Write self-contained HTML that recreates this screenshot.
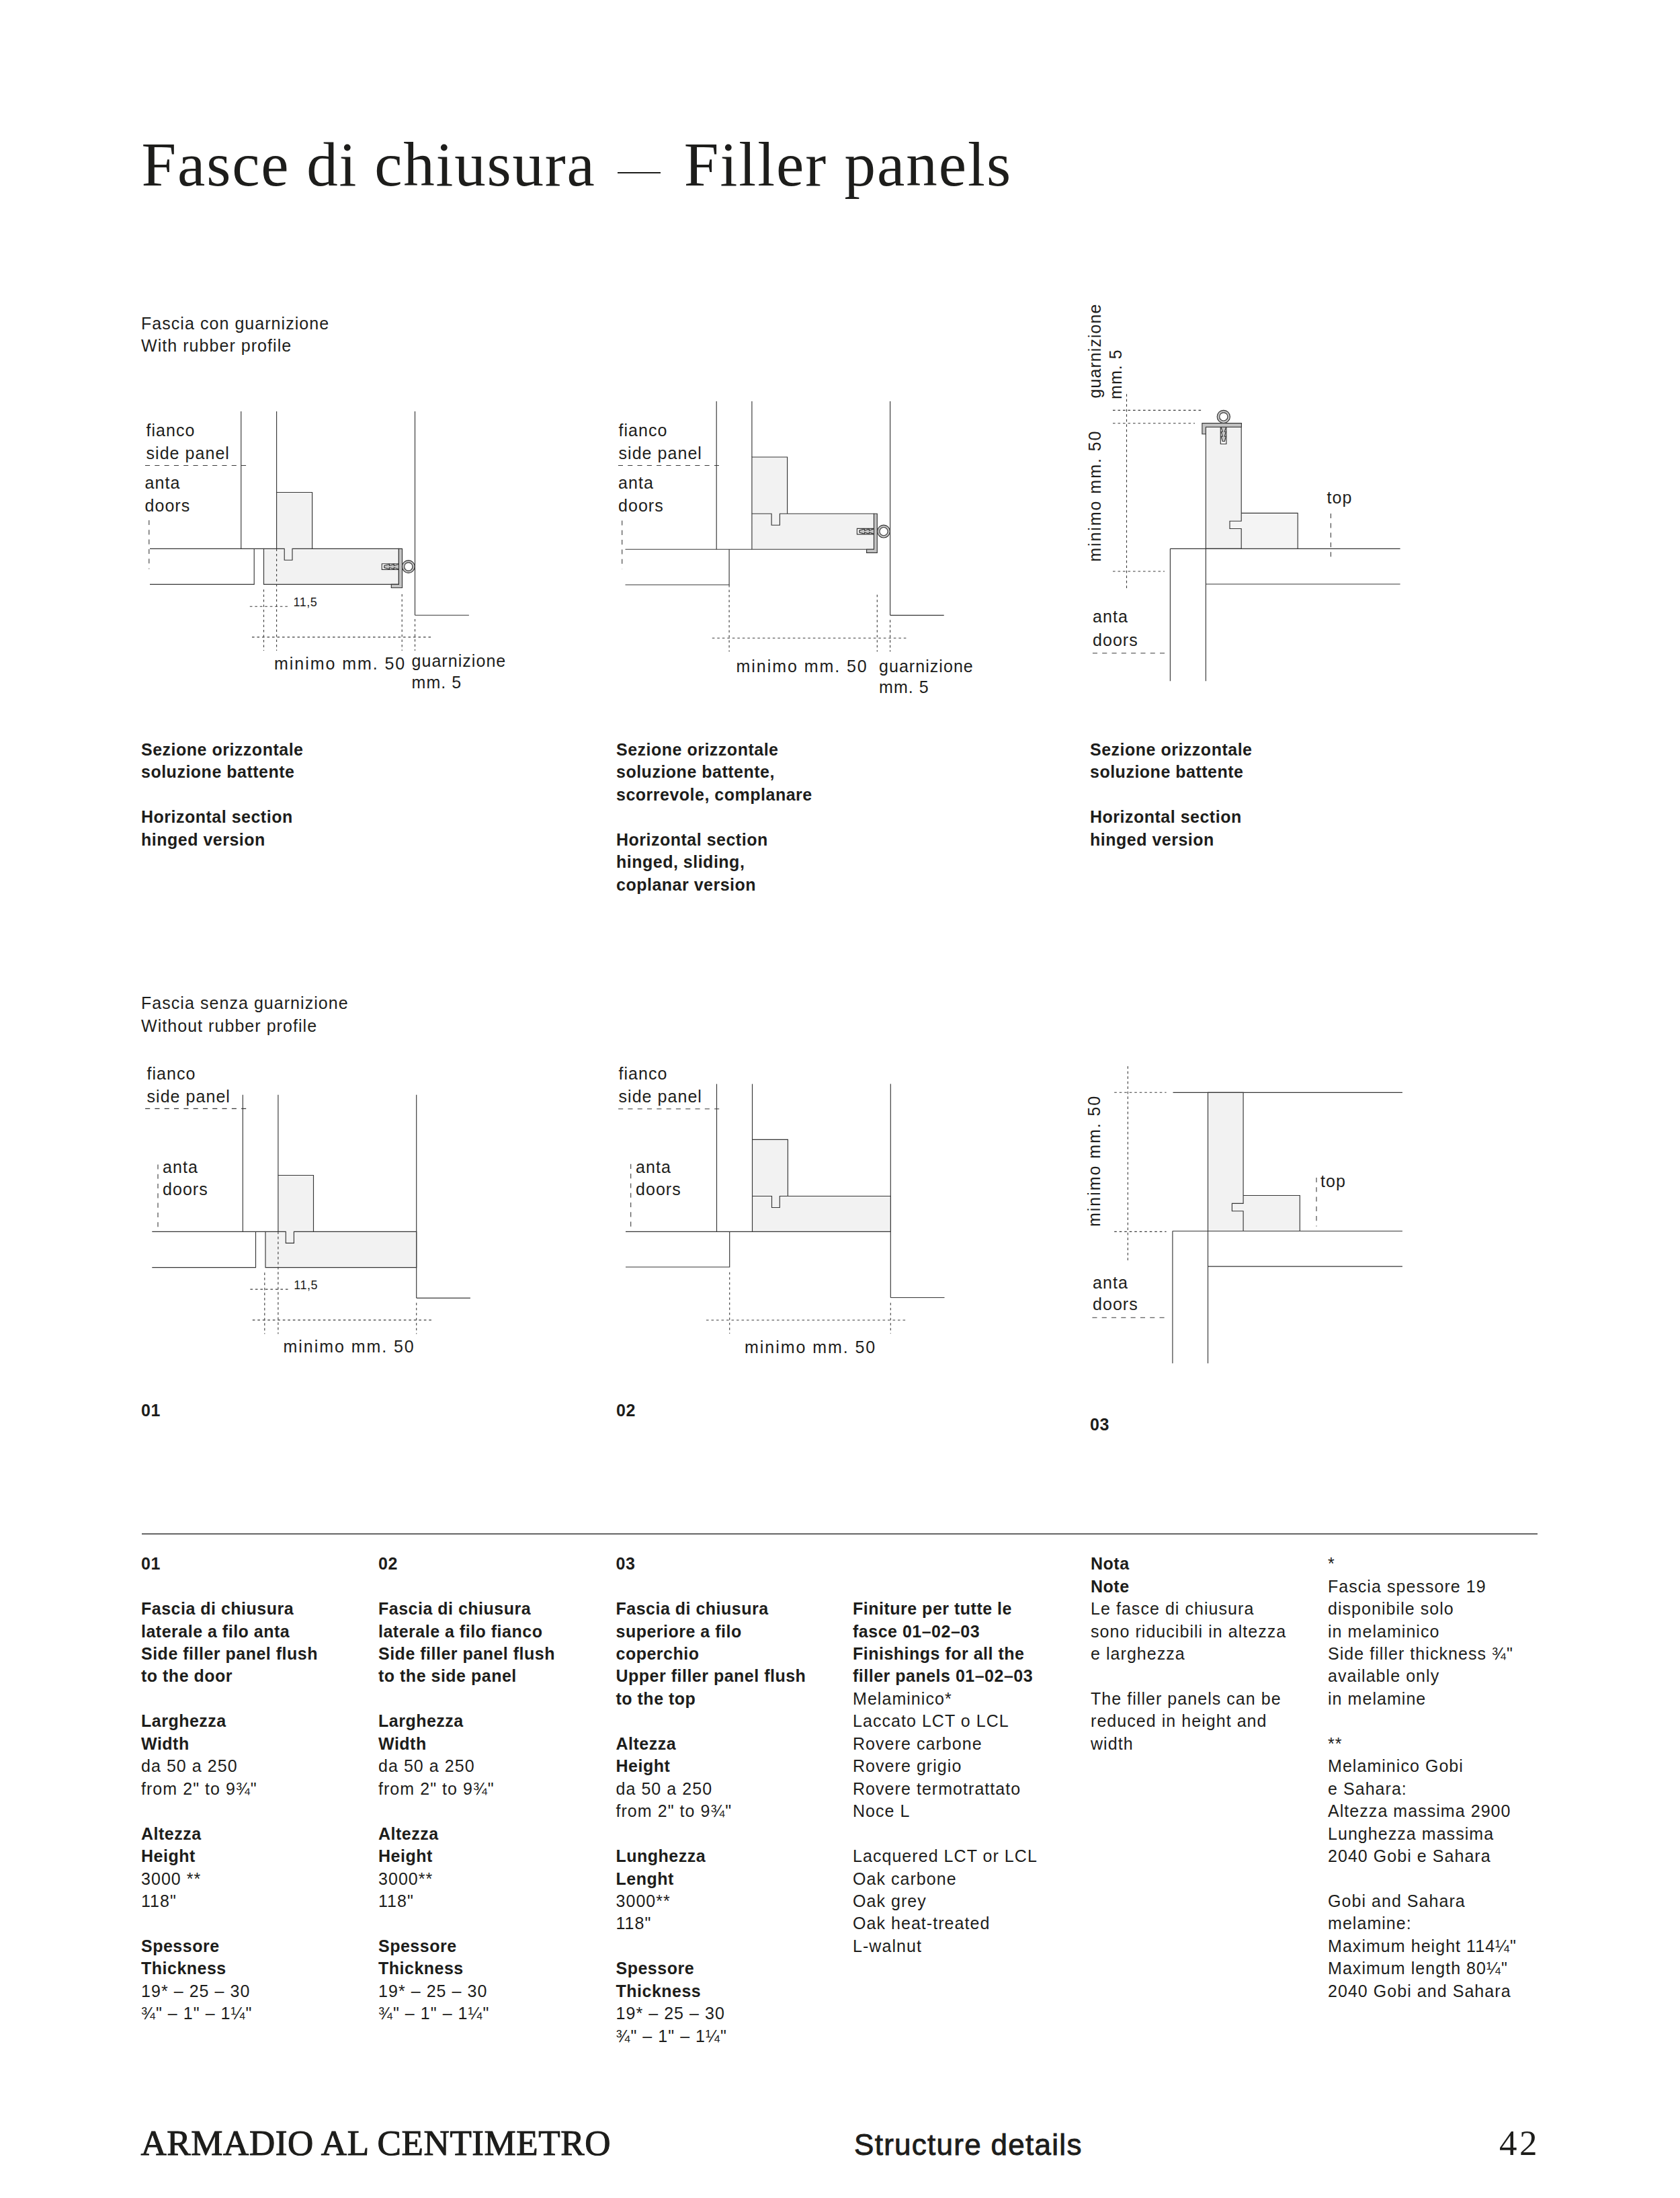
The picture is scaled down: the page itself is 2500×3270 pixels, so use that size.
<!DOCTYPE html>
<html lang="it"><head><meta charset="utf-8"><title>Fasce di chiusura — Filler panels</title>
<style>
*{margin:0;padding:0;box-sizing:border-box}
html,body{width:2500px;height:3270px;background:#fff;overflow:hidden}
body{position:relative;color:#1d1d1b;font-family:"Liberation Sans",Arial,sans-serif}
#dg{position:absolute;left:0;top:0}
.s{stroke:#363636;stroke-width:1.15}
.dl{stroke:#3a3a3a;stroke-width:1.1;stroke-dasharray:7.1 7.2}
.dd{stroke:#3a3a3a;stroke-width:1.1;stroke-dasharray:3.6 3.9}
text.t{font-family:"Liberation Sans",Arial,sans-serif;font-size:25px;fill:#1d1d1b;letter-spacing:1.05px}
text.ts{font-family:"Liberation Sans",Arial,sans-serif;font-size:18px;fill:#1d1d1b;letter-spacing:0.5px}
.ser{position:absolute;font-family:"Liberation Serif","Times New Roman",serif;white-space:nowrap;line-height:1}
.tx{position:absolute;font-size:25px;line-height:33.45px;letter-spacing:1.05px;white-space:nowrap}
.tx b{font-weight:bold;letter-spacing:0.5px}
.hr{position:absolute;left:211.2px;top:2281.4px;width:2077px;height:1.8px;background:#666}
</style></head>
<body>
<svg id="dg" width="2500" height="3270" viewBox="0 0 2500 3270">
<line class="s" x1="358.75" y1="612" x2="358.75" y2="816.4"/>
<line class="s" x1="411.6" y1="612" x2="411.6" y2="732.5"/>
<line class="s" x1="617.5" y1="612" x2="617.5" y2="915.2"/>
<line class="s" x1="617.5" y1="915.2" x2="697.9" y2="915.2"/>
<line class="dl" x1="216" y1="692.5" x2="367" y2="692.5"/>
<line class="dl" x1="221.8" y1="774" x2="221.8" y2="846.4"/>
<line class="s" x1="223" y1="816.4" x2="392.5" y2="816.4"/>
<path class="s" fill="none" d="M223,869.3 L378.2,869.3 L378.2,816.4"/>
<rect x="411.6" y="732.5" width="53.0" height="83.9" fill="#f2f2f2"/>
<path class="s" fill="none" d="M411.6,816.40 L411.6,732.5 L464.60,732.5 L464.60,816.40"/>
<rect x="392.5" y="816.4" width="200.90" height="52.90" fill="#f2f2f2"/>
<path class="s" fill="none" d="M392.5,816.4 L423.2,816.4 L423.2,833.2 L435.0,833.2 L435.0,816.4 L593.4,816.4 L593.4,869.3 L392.5,869.3 Z"/>
<path class="s" fill="#fff" d="M593.4,838.7 L568.3,838.7 L568.3,847.3 L593.4,847.3"/>
<path class="s" fill="#c4c4c4" d="M593.4,816.4 L598.5,816.4 L598.5,874.5 L582.3,874.5 L582.3,869.3 L593.4,869.3 Z"/>
<path class="s" fill="#c4c4c4" d="M571.6,841.5 L579.5,839.4 L579.5,841.5 L586.35,839.4 L586.35,841.5 L593.4,839.2 L593.4,846.8 L586.35,844.5 L586.35,846.6 L579.5,844.5 L579.5,846.6 L571.6,844.5 Z"/>
<circle class="s" cx="607.8" cy="843" r="9.4" fill="#c4c4c4"/>
<circle class="s" cx="607.8" cy="843" r="6.1" fill="#fff"/>
<line class="dd" x1="392.5" y1="877" x2="392.5" y2="968"/>
<line class="dd" x1="411.6" y1="816.4" x2="411.6" y2="968"/>
<line class="dd" x1="598.2" y1="884" x2="598.2" y2="968"/>
<line class="dd" x1="617.5" y1="921" x2="617.5" y2="968"/>
<line class="dd" x1="371.8" y1="902.2" x2="428.2" y2="902.2"/>
<line class="dd" x1="375" y1="947.9" x2="641.4" y2="947.9"/>
<text class="t" x="217.5" y="648.6">fianco</text>
<text class="t" x="217.5" y="683">side panel</text>
<text class="t" x="215.5" y="726.8">anta</text>
<text class="t" x="215.5" y="760.7">doors</text>
<text class="ts" x="436.5" y="902.3">11,5</text>
<text class="t" x="408" y="995.7"><tspan style="letter-spacing:1.95px">minimo mm. 50</tspan></text>
<text class="t" x="612.5" y="991.7">guarnizione</text>
<text class="t" x="612.5" y="1023.8">mm. 5</text>
<line class="s" x1="1066.2" y1="597" x2="1066.2" y2="817.2"/>
<line class="s" x1="1118.9" y1="597" x2="1118.9" y2="680"/>
<line class="s" x1="1324.6" y1="597" x2="1324.6" y2="915.3"/>
<line class="s" x1="1324.6" y1="915.3" x2="1404.7" y2="915.3"/>
<line class="dl" x1="919.9" y1="692.5" x2="1070.4" y2="692.5"/>
<line class="dl" x1="925.7" y1="774.5" x2="925.7" y2="846.2"/>
<line class="s" x1="930.5" y1="817.2" x2="1118.9" y2="817.2"/>
<path class="s" fill="none" d="M930.5,870 L1085.1,870 L1085.1,817.2"/>
<rect x="1118.9" y="680.0" width="52.7" height="84.2" fill="#f2f2f2"/>
<path class="s" fill="none" d="M1118.9,764.20 L1118.9,680.0 L1171.60,680.0 L1171.60,764.20"/>
<rect x="1118.9" y="764.2" width="181.60" height="53.00" fill="#f2f2f2"/>
<path class="s" fill="none" d="M1118.9,764.2 L1148.1,764.2 L1148.1,781.2 L1160.4,781.2 L1160.4,764.2 L1300.5,764.2 L1300.5,817.2 L1118.9,817.2 Z"/>
<path class="s" fill="#fff" d="M1300.5,786.3000000000001 L1275.4,786.3000000000001 L1275.4,794.9 L1300.5,794.9"/>
<path class="s" fill="#c4c4c4" d="M1300.5,764.2 L1305.3,764.2 L1305.3,822.4000000000001 L1289.6,822.4000000000001 L1289.6,817.2 L1300.5,817.2 Z"/>
<path class="s" fill="#c4c4c4" d="M1278.7,789.1 L1286.6,787.0 L1286.6,789.1 L1293.45,787.0 L1293.45,789.1 L1300.5,786.8000000000001 L1300.5,794.4 L1293.45,792.1 L1293.45,794.2 L1286.6,792.1 L1286.6,794.2 L1278.7,792.1 Z"/>
<circle class="s" cx="1315" cy="790.6" r="9.4" fill="#c4c4c4"/>
<circle class="s" cx="1315" cy="790.6" r="6.1" fill="#fff"/>
<line class="dd" x1="1085.1" y1="870" x2="1085.1" y2="969.6"/>
<line class="dd" x1="1305.3" y1="884.7" x2="1305.3" y2="969.6"/>
<line class="dd" x1="1324.6" y1="922.3" x2="1324.6" y2="969.6"/>
<line class="dd" x1="1059.8" y1="949.3" x2="1349" y2="949.3"/>
<text class="t" x="920.5" y="648.5">fianco</text>
<text class="t" x="920.5" y="682.9">side panel</text>
<text class="t" x="920" y="726.9">anta</text>
<text class="t" x="920" y="760.6">doors</text>
<text class="t" x="1095.5" y="999.5"><tspan style="letter-spacing:1.95px">minimo mm. 50</tspan></text>
<text class="t" x="1308" y="999.5">guarnizione</text>
<text class="t" x="1308" y="1030.5">mm. 5</text>
<rect x="1794.4" y="635.2" width="52.8" height="181.1" fill="#f2f2f2"/>
<path fill="#f4f4f4" d="M1847.2,763.3 L1931.2,763.3 L1931.2,816.3 L1847.2,816.3 L1847.2,786.5 L1830,786.5 L1830,775.2 L1847.2,775.2 Z"/>
<path class="s" fill="none" d="M1794.4,635.2 L1847.2,635.2 L1847.2,775.2 L1830,775.2 L1830,786.5 L1847.2,786.5 L1847.2,816.3 L1794.4,816.3 Z"/>
<path class="s" fill="none" d="M1847.2,763.3 L1931.2,763.3 L1931.2,816.3"/>
<path class="s" fill="#fff" d="M1816.3,635.2 L1816.3,660.5 L1824.9,660.5 L1824.9,635.2"/>
<path class="s" fill="#c4c4c4" d="M1817.0,635.2 L1819.3,642.25 L1817.2,642.25 L1819.3,649.1 L1817.2,649.1 L1819.3,656.7 L1822.3,656.7 L1824.3999999999999,649.1 L1822.3,649.1 L1824.3999999999999,642.25 L1822.3,642.25 L1824.6,635.2 Z"/>
<path class="s" fill="#c4c4c4" d="M1788.9,629.6 L1847.4,629.6 L1847.4,635.2 L1794.4,635.2 L1794.4,645.7 L1788.9,645.7 Z"/>
<circle class="s" cx="1820.8" cy="619.9" r="9.6" fill="#c4c4c4"/><circle class="s" cx="1820.8" cy="619.9" r="6.1" fill="#fff"/>
<line class="s" x1="1741.4" y1="816.3" x2="2083.6" y2="816.3"/>
<line class="s" x1="1741.4" y1="816.3" x2="1741.4" y2="1013.3"/>
<line class="s" x1="1794.4" y1="816.3" x2="1794.4" y2="1013.3"/>
<line class="s" x1="1794.4" y1="869" x2="2083.6" y2="869"/>
<line class="dd" x1="1676.5" y1="586.3" x2="1676.5" y2="875.5"/>
<line class="dd" x1="1656" y1="610.4" x2="1788.1" y2="610.4"/>
<line class="dd" x1="1656" y1="629.7" x2="1778" y2="629.7"/>
<line class="dd" x1="1656" y1="850" x2="1733" y2="850"/>
<line class="dl" x1="1980.4" y1="764" x2="1980.4" y2="835.4"/>
<line class="dl" x1="1625.9" y1="971.7" x2="1738.4" y2="971.7"/>
<text class="t" transform="translate(1637.5,592.4) rotate(-90)">guarnizione</text>
<text class="t" transform="translate(1669.3,594) rotate(-90)">mm. 5</text>
<text class="t" transform="translate(1637.5,835.8) rotate(-90)"><tspan style="letter-spacing:1.95px">minimo mm. 50</tspan></text>
<text class="t" x="1974.5" y="749">top</text>
<text class="t" x="1626" y="926.4">anta</text>
<text class="t" x="1626" y="960.7">doors</text>
<line class="s" x1="361.3" y1="1628.7" x2="361.3" y2="1832.3"/>
<line class="s" x1="413.9" y1="1628.7" x2="413.9" y2="1748.5"/>
<line class="s" x1="619.7" y1="1628.7" x2="619.7" y2="1931.1"/>
<line class="s" x1="619.7" y1="1931.1" x2="699.9" y2="1931.1"/>
<line class="dl" x1="216.1" y1="1649.4" x2="367.1" y2="1649.4"/>
<line class="dl" x1="235" y1="1732.4" x2="235" y2="1826.8"/>
<line class="s" x1="226.3" y1="1832.3" x2="395" y2="1832.3"/>
<path class="s" fill="none" d="M226.3,1885.6 L380.5,1885.6 L380.5,1832.3"/>
<rect x="413.9" y="1748.5" width="52.6" height="83.8" fill="#f2f2f2"/>
<path class="s" fill="none" d="M413.9,1832.30 L413.9,1748.5 L466.50,1748.5 L466.50,1832.30"/>
<rect x="395" y="1832.3" width="224.70" height="53.30" fill="#f2f2f2"/>
<path class="s" fill="none" d="M395,1832.3 L425.3,1832.3 L425.3,1849.4 L437.4,1849.4 L437.4,1832.3 L619.7,1832.3 L619.7,1885.6 L395,1885.6 Z"/>
<line class="dd" x1="393.8" y1="1893.3" x2="393.8" y2="1984.6"/>
<line class="dd" x1="413.9" y1="1832.3" x2="413.9" y2="1984.6"/>
<line class="dd" x1="619.7" y1="1938.2" x2="619.7" y2="1984.6"/>
<line class="dd" x1="372.4" y1="1918.1" x2="429" y2="1918.1"/>
<line class="dd" x1="375.8" y1="1963.9" x2="642.6" y2="1963.9"/>
<text class="t" x="218.5" y="1605.5">fianco</text>
<text class="t" x="218.5" y="1639.5">side panel</text>
<text class="t" x="242" y="1744.8">anta</text>
<text class="t" x="242" y="1777.9">doors</text>
<text class="ts" x="437.3" y="1917.5">11,5</text>
<text class="t" x="421.5" y="2011.6"><tspan style="letter-spacing:1.95px">minimo mm. 50</tspan></text>
<line class="s" x1="1066.5" y1="1612.6" x2="1066.5" y2="1832.4"/>
<line class="s" x1="1119.5" y1="1612.6" x2="1119.5" y2="1695.3"/>
<line class="s" x1="1325.3" y1="1612.6" x2="1325.3" y2="1930.5"/>
<line class="s" x1="1325.3" y1="1930.5" x2="1405.5" y2="1930.5"/>
<line class="dl" x1="920.1" y1="1649.8" x2="1070.2" y2="1649.8"/>
<line class="dl" x1="938.7" y1="1731.8" x2="938.7" y2="1826.8"/>
<line class="s" x1="931" y1="1832.4" x2="1119.5" y2="1832.4"/>
<path class="s" fill="none" d="M931,1885 L1085.7,1885 L1085.7,1832.4"/>
<rect x="1119.5" y="1695.3" width="52.9" height="84.2" fill="#f2f2f2"/>
<path class="s" fill="none" d="M1119.5,1779.50 L1119.5,1695.3 L1172.40,1695.3 L1172.40,1779.50"/>
<rect x="1119.5" y="1779.5" width="205.80" height="52.90" fill="#f2f2f2"/>
<path class="s" fill="none" d="M1119.5,1779.5 L1148.5,1779.5 L1148.5,1796.5 L1160.3,1796.5 L1160.3,1779.5 L1325.3,1779.5 L1325.3,1832.4 L1119.5,1832.4 Z"/>
<line class="dd" x1="1085.7" y1="1892.7" x2="1085.7" y2="1984"/>
<line class="dd" x1="1325.3" y1="1938.2" x2="1325.3" y2="1984"/>
<line class="dd" x1="1051" y1="1964" x2="1347.9" y2="1964"/>
<text class="t" x="920.5" y="1605.8">fianco</text>
<text class="t" x="920.5" y="1639.9">side panel</text>
<text class="t" x="946" y="1745.1">anta</text>
<text class="t" x="946" y="1777.6">doors</text>
<text class="t" x="1108" y="2013.4"><tspan style="letter-spacing:1.95px">minimo mm. 50</tspan></text>
<line class="s" x1="1745.5" y1="1625.3" x2="2086.9" y2="1625.3"/>
<rect x="1797.5" y="1625.3" width="52.6" height="206.2" fill="#f2f2f2"/>
<path fill="#f2f2f2" d="M1850.1,1778.5 L1934.3,1778.5 L1934.3,1831.5 L1850.1,1831.5 L1850.1,1801.7 L1833.4,1801.7 L1833.4,1790.3 L1850.1,1790.3 Z"/>
<path class="s" fill="none" d="M1797.5,1625.3 L1850.1,1625.3 L1850.1,1790.3 L1833.4,1790.3 L1833.4,1801.7 L1850.1,1801.7 L1850.1,1831.5 L1797.5,1831.5 Z"/>
<path class="s" fill="none" d="M1850.1,1778.5 L1934.3,1778.5 L1934.3,1831.5"/>
<line class="s" x1="1744.9" y1="1831.5" x2="2086.9" y2="1831.5"/>
<line class="s" x1="1744.9" y1="1831.5" x2="1744.9" y2="2028.3"/>
<line class="s" x1="1797.5" y1="1831.5" x2="1797.5" y2="2028.3"/>
<line class="s" x1="1797.5" y1="1884.1" x2="2086.9" y2="1884.1"/>
<line class="dd" x1="1678.3" y1="1586.3" x2="1678.3" y2="1875.7"/>
<line class="dd" x1="1658.2" y1="1625.3" x2="1735.6" y2="1625.3"/>
<line class="dd" x1="1658.2" y1="1832.4" x2="1735.6" y2="1832.4"/>
<line class="dl" x1="1959" y1="1751.9" x2="1959" y2="1824.6"/>
<line class="dl" x1="1625.4" y1="1960.2" x2="1737.7" y2="1960.2"/>
<text class="t" transform="translate(1637.1,1825) rotate(-90)"><tspan style="letter-spacing:1.95px">minimo mm. 50</tspan></text>
<text class="t" x="1965" y="1765.8">top</text>
<text class="t" x="1626" y="1916.6">anta</text>
<text class="t" x="1626" y="1949.1">doors</text>
</svg>
<div class="ser" style="left:210.6px;top:198px;font-size:93px;letter-spacing:1.78px">Fasce di chiusura</div>
<div style="position:absolute;left:918.8px;top:256.2px;width:64.5px;height:1.6px;background:#1d1d1b"></div>
<div class="ser" style="left:1017.8px;top:198px;font-size:93px;letter-spacing:2.0px">Filler panels</div>
<div class="tx" style="left:210px;top:464.61px">Fascia con guarnizione<br>With rubber profile</div>
<div class="tx" style="left:210px;top:1476.41px">Fascia senza guarnizione<br>Without rubber profile</div>
<div class="tx" style="left:210px;top:1099.01px"><b>Sezione orizzontale</b><br><b>soluzione battente</b><br><br><b>Horizontal section</b><br><b>hinged version</b></div>
<div class="tx" style="left:917px;top:1099.01px"><b>Sezione orizzontale</b><br><b>soluzione battente,</b><br><b>scorrevole, complanare</b><br><br><b>Horizontal section</b><br><b>hinged, sliding,</b><br><b>coplanar version</b></div>
<div class="tx" style="left:1622px;top:1099.01px"><b>Sezione orizzontale</b><br><b>soluzione battente</b><br><br><b>Horizontal section</b><br><b>hinged version</b></div>
<div class="tx" style="left:210px;top:2081.51px"><b>01</b></div>
<div class="tx" style="left:917px;top:2082.21px"><b>02</b></div>
<div class="tx" style="left:1622px;top:2103.21px"><b>03</b></div>
<div class="hr"></div>
<div class="tx" style="left:210px;top:2310.21px"><b>01</b><br><br><b>Fascia di chiusura</b><br><b>laterale a filo anta</b><br><b>Side filler panel flush</b><br><b>to the door</b><br><br><b>Larghezza</b><br><b>Width</b><br>da 50 a 250<br>from 2" to 9¾"<br><br><b>Altezza</b><br><b>Height</b><br>3000 **<br>118"<br><br><b>Spessore</b><br><b>Thickness</b><br>19* – 25 – 30<br>¾" – 1" – 1¼"</div>
<div class="tx" style="left:563px;top:2310.21px"><b>02</b><br><br><b>Fascia di chiusura</b><br><b>laterale a filo fianco</b><br><b>Side filler panel flush</b><br><b>to the side panel</b><br><br><b>Larghezza</b><br><b>Width</b><br>da 50 a 250<br>from 2" to 9¾"<br><br><b>Altezza</b><br><b>Height</b><br>3000**<br>118"<br><br><b>Spessore</b><br><b>Thickness</b><br>19* – 25 – 30<br>¾" – 1" – 1¼"</div>
<div class="tx" style="left:916.5px;top:2310.21px"><b>03</b><br><br><b>Fascia di chiusura</b><br><b>superiore a filo</b><br><b>coperchio</b><br><b>Upper filler panel flush</b><br><b>to the top</b><br><br><b>Altezza</b><br><b>Height</b><br>da 50 a 250<br>from 2" to 9¾"<br><br><b>Lunghezza</b><br><b>Lenght</b><br>3000**<br>118"<br><br><b>Spessore</b><br><b>Thickness</b><br>19* – 25 – 30<br>¾" – 1" – 1¼"</div>
<div class="tx" style="left:1269px;top:2310.21px"><br><br><b>Finiture per tutte le</b><br><b>fasce 01–02–03</b><br><b>Finishings for all the</b><br><b>filler panels 01–02–03</b><br>Melaminico*<br>Laccato LCT o LCL<br>Rovere carbone<br>Rovere grigio<br>Rovere termotrattato<br>Noce L<br><br>Lacquered LCT or LCL<br>Oak carbone<br>Oak grey<br>Oak heat-treated<br>L-walnut</div>
<div class="tx" style="left:1623px;top:2310.21px"><b>Nota</b><br><b>Note</b><br>Le fasce di chiusura<br>sono riducibili in altezza<br>e larghezza<br><br>The filler panels can be<br>reduced in height and<br>width</div>
<div class="tx" style="left:1976px;top:2310.21px">*<br>Fascia spessore 19<br>disponibile solo<br>in melaminico<br>Side filler thickness ¾"<br>available only<br>in melamine<br><br>**<br>Melaminico Gobi<br>e Sahara:<br>Altezza massima 2900<br>Lunghezza massima<br>2040 Gobi e Sahara<br><br>Gobi and Sahara<br>melamine:<br>Maximum height 114¼"<br>Maximum length 80¼"<br>2040 Gobi and Sahara</div>
<div class="ser" style="left:209.5px;top:3162px;font-size:53px;letter-spacing:0.6px;-webkit-text-stroke:1.1px #1d1d1b">ARMADIO AL CENTIMETRO</div>
<div style="position:absolute;left:1271px;top:3169px;font-size:44px;letter-spacing:1.28px;line-height:1;-webkit-text-stroke:0.9px #1d1d1b;white-space:nowrap;font-family:'Liberation Sans',Arial,sans-serif">Structure details</div>
<div class="ser" style="left:2231px;top:3162px;font-size:53px;letter-spacing:3.5px">42</div>
</body></html>
